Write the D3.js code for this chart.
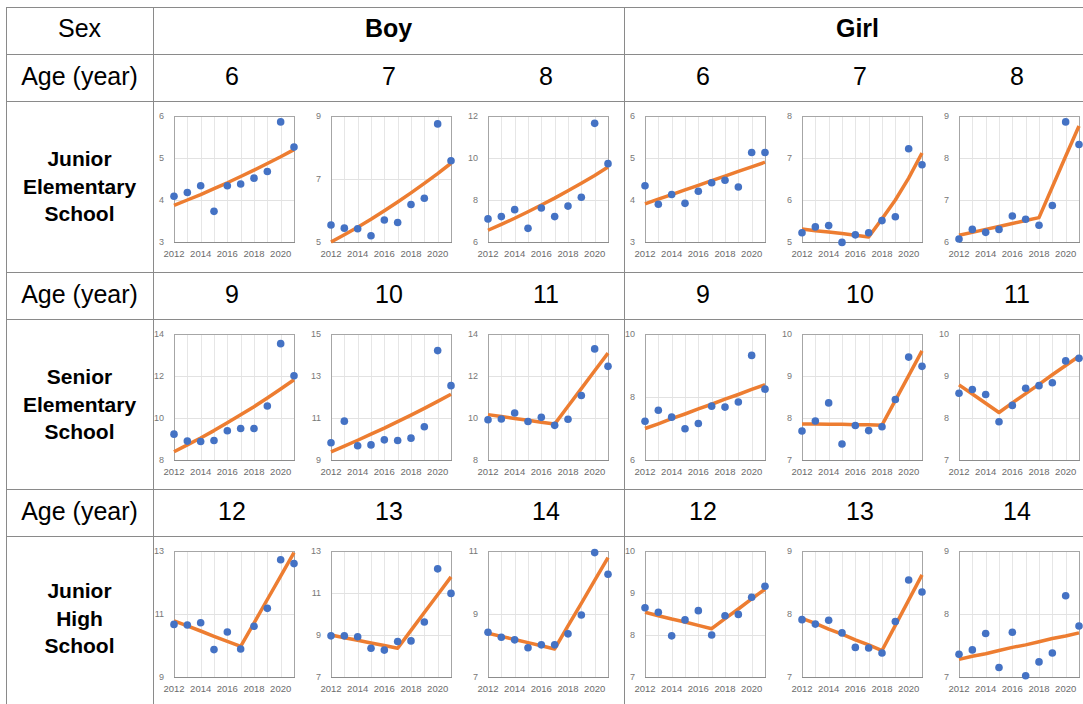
<!DOCTYPE html>
<html>
<head>
<meta charset="utf-8">
<title>Growth trends by age and sex</title>
<script src="https://cdnjs.cloudflare.com/ajax/libs/d3/7.8.5/d3.min.js"></script>
<style>
  body { margin: 0; background: #fff; }
  svg { font-family: "Liberation Sans", Arial, sans-serif; }
</style>
</head>
<body>
<div id="chart"></div>
<script>
// years on every small chart
var years = [2012, 2013, 2014, 2015, 2016, 2017, 2018, 2019, 2020, 2021];
var xTickYears = [2012, 2014, 2016, 2018, 2020];

var sexes = ["Boy", "Girl"];
var schools = [
  ["Junior", "Elementary", "School"],
  ["Senior", "Elementary", "School"],
  ["Junior", "High", "School"]
];
var ages = [[6, 7, 8], [9, 10, 11], [12, 13, 14]];

// observed values (dots) and fitted trend (orange line)
var boy6 = [4.09, 4.18, 4.34, 3.73, 4.34, 4.38, 4.52, 4.68, 5.86, 5.26];
var boy6Fit = [3.87, 4.0, 4.13, 4.27, 4.41, 4.56, 4.71, 4.87, 5.03, 5.2];
var boy6Ticks = [3, 4, 5, 6];
var boy7 = [5.54, 5.44, 5.42, 5.2, 5.7, 5.62, 6.19, 6.39, 8.75, 7.58];
var boy7Fit = [5.0, 5.23, 5.47, 5.72, 5.99, 6.27, 6.56, 6.86, 7.17, 7.5];
var boy7Ticks = [5, 7, 9];
var boy8 = [7.1, 7.21, 7.54, 6.65, 7.62, 7.21, 7.71, 8.13, 11.65, 9.73];
var boy8Fit = [6.56, 6.84, 7.13, 7.44, 7.76, 8.09, 8.44, 8.8, 9.17, 9.57];
var boy8Ticks = [6, 8, 10, 12];
var girl6 = [4.34, 3.9, 4.13, 3.92, 4.21, 4.41, 4.47, 4.31, 5.13, 5.13];
var girl6Fit = [3.91, 4.02, 4.13, 4.24, 4.35, 4.46, 4.57, 4.68, 4.79, 4.9];
var girl6Ticks = [3, 4, 5, 6];
var girl7 = [5.22, 5.36, 5.39, 4.99, 5.17, 5.22, 5.51, 5.6, 7.22, 6.84];
var girl7Fit = [5.31, 5.27, 5.24, 5.2, 5.16, 5.12, 5.55, 6.0, 6.52, 7.12];
var girl7Ticks = [5, 6, 7, 8];
var girl8 = [6.07, 6.3, 6.23, 6.3, 6.62, 6.54, 6.4, 6.87, 8.86, 8.32];
var girl8Fit = [6.16, 6.23, 6.3, 6.37, 6.44, 6.51, 6.58, 7.31, 8.04, 8.76];
var girl8Ticks = [6, 7, 8, 9];

var boy9 = [9.23, 8.9, 8.88, 8.93, 9.39, 9.5, 9.5, 10.57, 13.54, 12.01];
var boy9Fit = [8.39, 8.72, 9.05, 9.4, 9.77, 10.15, 10.54, 10.95, 11.38, 11.82];
var boy9Ticks = [8, 10, 12, 14];
var boy10 = [9.82, 10.85, 9.68, 9.72, 9.96, 9.93, 10.04, 10.58, 14.21, 12.54];
var boy10Fit = [9.39, 9.66, 9.94, 10.23, 10.52, 10.83, 11.14, 11.46, 11.79, 12.13];
var boy10Ticks = [9, 11, 13, 15];
var boy11 = [9.92, 9.95, 10.24, 9.83, 10.03, 9.65, 9.94, 11.07, 13.29, 12.46];
var boy11Fit = [10.16, 10.07, 9.98, 9.89, 9.8, 9.71, 10.56, 11.4, 12.25, 13.09];
var boy11Ticks = [8, 10, 12, 14];
var girl9 = [7.23, 7.58, 7.36, 6.99, 7.16, 7.71, 7.68, 7.84, 9.32, 8.25];
var girl9Fit = [7.0, 7.15, 7.31, 7.46, 7.62, 7.77, 7.93, 8.08, 8.24, 8.39];
var girl9Ticks = [6, 8, 10];
var girl10 = [7.69, 7.93, 8.36, 7.38, 7.82, 7.7, 7.79, 8.44, 9.45, 9.23];
var girl10Fit = [7.86, 7.86, 7.85, 7.85, 7.84, 7.84, 7.83, 8.42, 9.01, 9.6];
var girl10Ticks = [7, 8, 9, 10];
var girl11 = [8.59, 8.68, 8.56, 7.91, 8.3, 8.71, 8.77, 8.84, 9.36, 9.42];
var girl11Fit = [8.79, 8.57, 8.35, 8.13, 8.36, 8.58, 8.8, 9.03, 9.25, 9.47];
var girl11Ticks = [7, 8, 9, 10];

var boy12 = [10.67, 10.65, 10.72, 9.87, 10.43, 9.89, 10.61, 11.18, 12.72, 12.6];
var boy12Fit = [10.78, 10.62, 10.46, 10.29, 10.13, 9.97, 10.71, 11.46, 12.2, 12.95];
var boy12Ticks = [9, 11, 13];
var boy13 = [8.96, 8.96, 8.92, 8.37, 8.28, 8.69, 8.72, 9.62, 12.15, 10.98];
var boy13Fit = [9.0, 8.87, 8.75, 8.62, 8.5, 8.37, 9.22, 10.07, 10.92, 11.77];
var boy13Ticks = [7, 9, 11, 13];
var boy14 = [8.42, 8.26, 8.18, 7.93, 8.02, 8.02, 8.37, 8.97, 10.95, 10.26];
var boy14Fit = [8.39, 8.29, 8.19, 8.09, 7.99, 7.89, 8.62, 9.34, 10.07, 10.79];
var boy14Ticks = [7, 9, 11];
var girl12 = [8.65, 8.54, 7.98, 8.36, 8.58, 8.0, 8.46, 8.49, 8.9, 9.16];
var girl12Fit = [8.54, 8.46, 8.38, 8.31, 8.23, 8.15, 8.39, 8.62, 8.86, 9.09];
var girl12Ticks = [7, 8, 9, 10];
var girl13 = [7.91, 7.84, 7.9, 7.7, 7.47, 7.46, 7.38, 7.88, 8.54, 8.35];
var girl13Fit = [7.93, 7.85, 7.76, 7.68, 7.59, 7.51, 7.42, 7.82, 8.22, 8.62];
var girl13Ticks = [7, 8, 9];
var girl14 = [7.36, 7.43, 7.69, 7.15, 7.71, 7.02, 7.24, 7.38, 8.29, 7.81];
var girl14Fit = [7.28, 7.33, 7.37, 7.42, 7.47, 7.51, 7.56, 7.61, 7.65, 7.7];
var girl14Ticks = [7, 8, 9];

// rows of panels: [observed, fit, ticks] in column order boy 3, girl 3
var panelRows = [
  [[boy6, boy6Fit, boy6Ticks], [boy7, boy7Fit, boy7Ticks], [boy8, boy8Fit, boy8Ticks],
   [girl6, girl6Fit, girl6Ticks], [girl7, girl7Fit, girl7Ticks], [girl8, girl8Fit, girl8Ticks]],
  [[boy9, boy9Fit, boy9Ticks], [boy10, boy10Fit, boy10Ticks], [boy11, boy11Fit, boy11Ticks],
   [girl9, girl9Fit, girl9Ticks], [girl10, girl10Fit, girl10Ticks], [girl11, girl11Fit, girl11Ticks]],
  [[boy12, boy12Fit, boy12Ticks], [boy13, boy13Fit, boy13Ticks], [boy14, boy14Fit, boy14Ticks],
   [girl12, girl12Fit, girl12Ticks], [girl13, girl13Fit, girl13Ticks], [girl14, girl14Fit, girl14Ticks]]
];

var width = 1083;
var height = 704;
var lineColor = "#8a8a8a";

var svg = d3.select("#chart").append("svg")
  .attr("width", width)
  .attr("height", height);

// table layout
var tableLeft = 6;
var labelColRight = 153;
var colStep = 157;
var colX = d3.scaleLinear().domain([0, 6]).range([labelColRight, labelColRight + 6 * colStep]);
var headerTop = 7;
var headerBottom = 54;
var ageRowTops = [54, 272, 489];
var ageRowH = 47;
var labelMidOffsets = [85, 85, 82];
var plotW = 120;
var plotH = 126;

var table = svg.append("g");

// horizontal rules
var hLines = [headerTop, headerBottom];
ageRowTops.forEach(function (t) { hLines.push(t, t + ageRowH); });
hLines = hLines.filter(function (v, i, a) { return a.indexOf(v) === i; });
hLines.forEach(function (y) {
  table.append("line")
    .attr("x1", tableLeft).attr("x2", width)
    .attr("y1", y + 0.5).attr("y2", y + 0.5)
    .attr("stroke", lineColor).attr("stroke-width", 1);
});

// vertical rules
[tableLeft, labelColRight, Math.round(colX(3))].forEach(function (x) {
  table.append("line")
    .attr("x1", x + 0.5).attr("x2", x + 0.5)
    .attr("y1", headerTop).attr("y2", height)
    .attr("stroke", lineColor).attr("stroke-width", 1);
});

var labelCx = (tableLeft + labelColRight) / 2;

table.append("text")
  .attr("x", labelCx).attr("y", (headerTop + headerBottom) / 2 - 3)
  .attr("dy", "0.36em")
  .attr("text-anchor", "middle")
  .style("font-size", "25px")
  .text("Sex");

sexes.forEach(function (s, i) {
  table.append("text")
    .attr("x", (colX(i * 3) + colX(i * 3 + 3)) / 2 + (i === 1 ? -2 : 0))
    .attr("y", (headerTop + headerBottom) / 2 - 3)
    .attr("dy", "0.36em")
    .attr("text-anchor", "middle")
    .style("font-size", "25px")
    .style("font-weight", "bold")
    .text(s);
});

ageRowTops.forEach(function (top, r) {
  var cy = top + ageRowH / 2 - 2;
  table.append("text")
    .attr("x", labelCx).attr("y", cy)
    .attr("dy", "0.36em")
    .attr("text-anchor", "middle")
    .style("font-size", "25px")
    .text("Age (year)");

  for (var c = 0; c < 6; c++) {
    table.append("text")
      .attr("x", colX(c) + 21 + 58)
      .attr("y", cy)
      .attr("dy", "0.36em")
      .attr("text-anchor", "middle")
      .style("font-size", "25px")
      .text(ages[r][c % 3]);
  }

  // school label centred on the chart row
  var cellMid = top + ageRowH + labelMidOffsets[r];
  var lbl = table.append("text")
    .attr("x", labelCx)
    .attr("text-anchor", "middle")
    .style("font-size", "21px")
    .style("font-weight", "bold");
  schools[r].forEach(function (w, k) {
    lbl.append("tspan")
      .attr("x", labelCx)
      .attr("y", cellMid + (k - 1) * 27.5)
      .attr("dy", "0.36em")
      .text(w);
  });
});

// small charts
panelRows.forEach(function (row, r) {
  var plotTop = ageRowTops[r] + ageRowH + 15;
  row.forEach(function (panel, c) {
    var observed = panel[0], fit = panel[1], ticks = panel[2];
    var left = Math.round(colX(c)) + 21;

    var x = d3.scaleLinear().domain([years[0], years[years.length - 1]]).range([0, plotW]);
    var y = d3.scaleLinear().domain([ticks[0], ticks[ticks.length - 1]]).range([plotH, 0]);

    var g = svg.append("g").attr("transform", "translate(" + left + "," + plotTop + ")");

    g.selectAll(".vgrid").data(years.slice(1, -1)).enter().append("line")
      .attr("x1", function (d) { return Math.round(x(d)) + 0.5; })
      .attr("x2", function (d) { return Math.round(x(d)) + 0.5; })
      .attr("y1", 0).attr("y2", plotH)
      .attr("stroke", "#e6e6e6");

    g.selectAll(".hgrid").data(ticks.slice(1, -1)).enter().append("line")
      .attr("x1", 0).attr("x2", plotW)
      .attr("y1", function (d) { return Math.round(y(d)) + 0.5; })
      .attr("y2", function (d) { return Math.round(y(d)) + 0.5; })
      .attr("stroke", "#e2e2e2");

    g.append("rect")
      .attr("x", 0.5).attr("y", 0.5)
      .attr("width", plotW).attr("height", plotH)
      .attr("fill", "none")
      .attr("stroke", "#a6a6a6");

    g.append("line")
      .attr("x1", 0).attr("x2", plotW + 1)
      .attr("y1", plotH + 0.5).attr("y2", plotH + 0.5)
      .attr("stroke", "#8c8c8c");

    g.selectAll(".ylab").data(ticks).enter().append("text")
      .attr("x", -10)
      .attr("y", function (d) { return y(d); })
      .attr("dy", "0.35em")
      .attr("text-anchor", "end")
      .attr("fill", "#777")
      .style("font-size", "9px")
      .text(function (d) { return d; });

    g.selectAll(".xlab").data(xTickYears).enter().append("text")
      .attr("x", function (d) { return x(d); })
      .attr("y", plotH + 15)
      .attr("text-anchor", "middle")
      .attr("fill", "#6b6b6b")
      .style("font-size", "9.5px")
      .text(function (d) { return d; });

    var line = d3.line()
      .x(function (d, i) { return x(years[i]); })
      .y(function (d) { return y(d); });

    g.append("path")
      .datum(fit)
      .attr("d", line)
      .attr("fill", "none")
      .attr("stroke", "#ED7D31")
      .attr("stroke-width", 3.5)
      .attr("stroke-linejoin", "round");

    g.selectAll(".dot").data(observed).enter().append("circle")
      .attr("cx", function (d, i) { return x(years[i]); })
      .attr("cy", function (d) { return y(d); })
      .attr("r", 3.8)
      .attr("fill", "#4472C4");
  });
});
</script>
</body>
</html>
